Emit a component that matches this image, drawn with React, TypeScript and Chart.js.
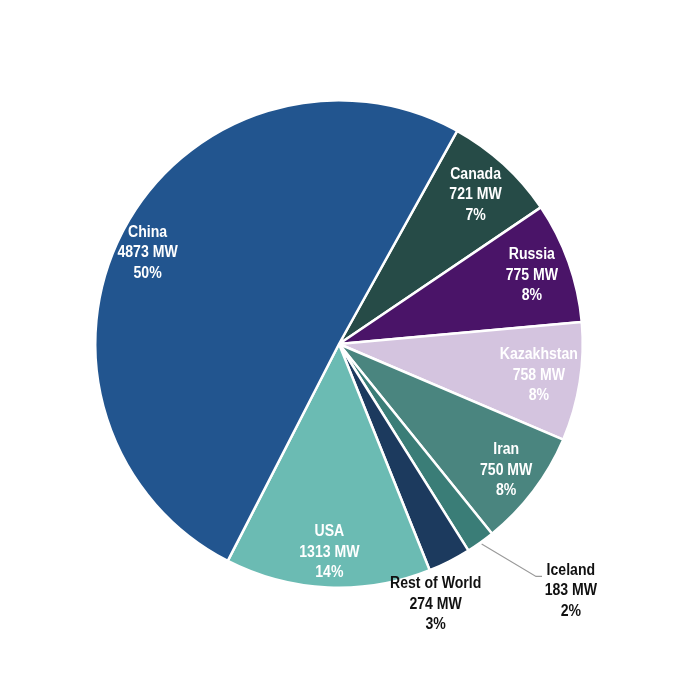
import React, { useEffect, useRef } from "react";
import { Chart, registerables } from "chart.js";

Chart.register(...registerables);

const countries = ["Canada", "Russia", "Kazakhstan", "Iran", "Iceland", "Rest of World", "USA", "China"];
const capacityMW = [721, 775, 758, 750, 183, 274, 1313, 4873];
const sharePct = [7, 8, 8, 8, 2, 3, 14, 50];
const sliceColors = ["#264B47", "#4A1468", "#D4C4DF", "#4A857F", "#3A7D77", "#1C3A5E", "#6BBBB3", "#22558F"];
const labelColors = ["#ffffff", "#ffffff", "#ffffff", "#ffffff", "#111111", "#111111", "#ffffff", "#ffffff"];
// label placement: radial factor (of outer radius) and angular offset (degrees)
const labelRadius = [0.83, 0.84, 0.83, 0.86, 1.39, 1.14, 0.855, 0.87];
const labelAngleOffset = [0, 0, 0, 0, -7.7, 6.6, 0, -2.6];
const leaderLines = [false, false, false, false, true, false, false, false];

const FONT = "bold 16px 'Liberation Sans', Arial, sans-serif";
const NARROW = 0.88;
const LINE_H = 20.5;

const labelPlugin = {
  id: "sliceLabels",
  afterDatasetsDraw(chart: any) {
    const ctx = chart.ctx;
    const meta = chart.getDatasetMeta(0);
    ctx.save();
    ctx.font = FONT;
    ctx.textAlign = "center";
    ctx.textBaseline = "middle";
    meta.data.forEach((arc: any, i: number) => {
      const { x, y, startAngle, endAngle, outerRadius } = arc.getProps(
        ["x", "y", "startAngle", "endAngle", "outerRadius"],
        true
      );
      const mid = (startAngle + endAngle) / 2;
      const a = mid + (labelAngleOffset[i] * Math.PI) / 180;
      const r = outerRadius * labelRadius[i];
      const cx = x + Math.cos(a) * r;
      const cy = y + Math.sin(a) * r;
      if (leaderLines[i]) {
        const sx = x + Math.cos(mid) * (outerRadius + 2);
        const sy = y + Math.sin(mid) * (outerRadius + 2);
        const ea = mid - (4.8 * Math.PI) / 180;
        const ex = x + Math.cos(ea) * outerRadius * 1.25;
        const ey = y + Math.sin(ea) * outerRadius * 1.25;
        ctx.strokeStyle = "#9a9a9a";
        ctx.lineWidth = 1.2;
        ctx.beginPath();
        ctx.moveTo(sx, sy);
        ctx.lineTo(ex, ey);
        ctx.lineTo(ex + 6, ey);
        ctx.stroke();
      }
      const lines = [countries[i], `${capacityMW[i]} MW`, `${sharePct[i]}%`];
      ctx.fillStyle = labelColors[i];
      lines.forEach((t, k) => {
        ctx.save();
        ctx.translate(cx, cy + (k - 1) * LINE_H);
        ctx.scale(NARROW, 1);
        ctx.fillText(t, 0, 0);
        ctx.restore();
      });
    });
    ctx.restore();
  },
};

export default function App() {
  const ref = useRef<HTMLCanvasElement>(null);
  useEffect(() => {
    if (!ref.current) return;
    const chart = new Chart(ref.current, {
      type: "pie",
      data: {
        labels: countries,
        datasets: [
          {
            data: capacityMW,
            backgroundColor: sliceColors,
            borderColor: "#ffffff",
            borderWidth: 2.5,
          },
        ],
      },
      options: {
        responsive: false,
        animation: false,
        rotation: 29,
        layout: { padding: { left: 94, right: 116, top: 99, bottom: 111 } },
        plugins: {
          legend: { display: false },
          tooltip: { enabled: false },
        },
      },
      plugins: [labelPlugin],
    });
    return () => chart.destroy();
  }, []);
  return (
    <div style={{ position: "absolute", left: 0, top: 0, width: 700, height: 700, background: "#fff" }}>
      <canvas ref={ref} width={700} height={700} />
    </div>
  );
}
